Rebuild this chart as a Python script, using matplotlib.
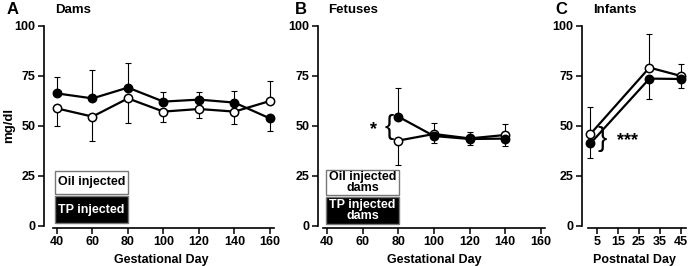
import matplotlib
matplotlib.use("Agg")
import matplotlib.pyplot as plt
from matplotlib.patches import Rectangle
import numpy as np

plt.rcParams["font.family"] = ["Liberation Sans", "DejaVu Sans"]
plt.rcParams["font.weight"] = "bold"

# Panel A: dams, gestational day
dams_day = [40, 60, 80, 100, 120, 140, 160]
dams_oil = [58.8, 54.7, 63.8, 57.2, 58.5, 57.2, 62.5]
dams_oil_err = [8.6, 12.2, 12.5, 5.4, 4.5, 6.4, 10.2]
dams_oil_dir = [-1, -1, -1, -1, -1, -1, 1]
dams_tp = [66.3, 63.8, 69.2, 62.2, 63.2, 61.7, 53.8]
dams_tp_err = [8.4, 14.2, 12.2, 5.0, 4.0, 5.8, 6.3]
dams_tp_dir = [1, 1, 1, 1, 1, 1, -1]

# Panel B: fetuses, gestational day
fet_day = [80, 100, 120, 140]
fet_oil = [42.7, 46.0, 43.8, 45.5]
fet_oil_err = [12.0, 5.5, 3.0, 5.5]
fet_oil_dir = [-1, 1, 1, 1]
fet_tp = [54.7, 45.0, 43.5, 43.7]
fet_tp_err = [14.3, 3.5, 3.0, 3.7]
fet_tp_dir = [1, -1, -1, -1]

# Panel C: infants, postnatal day
inf_day = [2, 30, 45]
inf_oil = [46.0, 79.2, 75.0]
inf_oil_err = [13.3, 17.0, 6.0]
inf_oil_dir = [1, 1, 1]
inf_tp = [41.3, 73.7, 73.5]
inf_tp_err = [7.5, 10.0, 4.5]
inf_tp_dir = [-1, -1, -1]

W, H = 688, 266
fig = plt.figure(figsize=(W / 100, H / 100), dpi=100)

bottom = 40 / H
height = 200 / H


def make_axes(left_px, xlim, px_per_unit, xticks, xbounds):
    width = (xlim[1] - xlim[0]) * px_per_unit
    ax = fig.add_axes([left_px / W, bottom, width / W, height])
    ax.set_xlim(*xlim)
    ax.set_ylim(0, 100)
    ax.set_yticks([0, 25, 50, 75, 100])
    ax.set_xticks(xticks)
    for s in ("top", "right"):
        ax.spines[s].set_visible(False)
    ax.spines["bottom"].set_position(("outward", 1.5))
    ax.spines["bottom"].set_bounds(*xbounds)
    for s in ("left", "bottom"):
        ax.spines[s].set_linewidth(1.2)
    ax.tick_params(width=1.1, length=4, labelsize=9, pad=2)
    return ax


def series(ax, x, y, err, direc, face):
    err = np.array(err)
    direc = np.array(direc)
    yerr = [np.where(direc < 0, err, 0), np.where(direc > 0, err, 0)]
    ax.errorbar(x, y, yerr=yerr, fmt="none", ecolor="black", elinewidth=0.8,
                capsize=2.5, capthick=0.8, zorder=2)
    ax.plot(x, y, "-o", color="black", lw=1.6, ms=6, mfc=face, mec="black",
            mew=1.1, zorder=3, clip_on=False)


def legend_boxes(ax, labels, x0, x1, ys):
    for (lab, fc, tc), (ya, yb) in zip(labels, ys):
        ax.add_patch(Rectangle((x0, ya), x1 - x0, yb - ya, facecolor=fc,
                               edgecolor="#777777", lw=1.0, zorder=4))
        ax.text((x0 + x1) / 2, (ya + yb) / 2, lab, color=tc, ha="center",
                va="center", fontsize=9, fontweight="bold", zorder=5,
                linespacing=0.9)


# A
axA = make_axes(44, (32.7, 165), 1.775, [40, 60, 80, 100, 120, 140, 160], (37.7, 162.5))
series(axA, dams_day, dams_oil, dams_oil_err, dams_oil_dir, "white")
series(axA, dams_day, dams_tp, dams_tp_err, dams_tp_dir, "black")
axA.set_xlabel("Gestational Day", fontsize=9, fontweight="bold", labelpad=4)
axA.set_ylabel("mg/dl", fontsize=9.5, fontweight="bold")
axA.yaxis.set_label_coords(-0.1235, 0.505)
legend_boxes(axA, [("Oil injected", "white", "black"), ("TP injected", "black", "white")],
             38.9, 80.0, [(16.0, 27.5), (1.5, 15.0)])

# B
axB = make_axes(318, (35, 165), 1.783, [40, 60, 80, 100, 120, 140, 160], (37.6, 162.5))
series(axB, fet_day, fet_oil, fet_oil_err, fet_oil_dir, "white")
series(axB, fet_day, fet_tp, fet_tp_err, fet_tp_dir, "black")
axB.set_xlabel("Gestational Day", fontsize=9, fontweight="bold", labelpad=4)
legend_boxes(axB, [("Oil injected\ndams", "white", "black"), ("TP injected\ndams", "black", "white")],
             39.4, 80.4, [(15.5, 28.0), (1.0, 14.5)])
axB.text(74.8, 49.5, "{", fontsize=20, fontweight="normal", ha="center", va="center")
axB.text(66, 48, "*", fontsize=13, fontweight="bold", ha="center", va="center")

# C
axC = make_axes(582, (-2, 47.5), 2.108, [5, 15, 25, 35, 45], (0.8, 47.5))
series(axC, inf_day, inf_oil, inf_oil_err, inf_oil_dir, "white")
series(axC, inf_day, inf_tp, inf_tp_err, inf_tp_dir, "black")
axC.set_xlabel("Postnatal Day", fontsize=9, fontweight="bold", labelpad=4)
axC.text(7.8, 43.5, "}", fontsize=20, fontweight="normal", ha="center", va="center")
axC.text(19.7, 42.5, "***", fontsize=13, fontweight="bold", ha="center", va="center")

# panel titles
for x_letter, x_word, letter, word in [(7, 55, "A", "Dams"), (295, 328, "B", "Fetuses"),
                                       (555, 593, "C", "Infants")]:
    fig.text(x_letter / W, 1 - 10 / H, letter, fontsize=12, fontweight="bold",
             ha="left", va="center")
    fig.text(x_word / W, 1 - 10 / H, word, fontsize=9.5, fontweight="bold",
             ha="left", va="center")

fig.savefig("out.png", dpi=100)
